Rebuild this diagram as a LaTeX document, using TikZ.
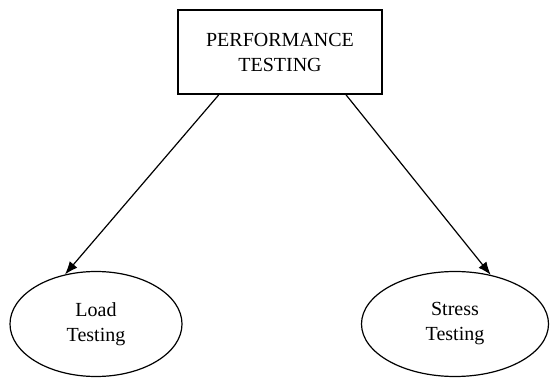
\documentclass[tikz,border=0pt]{standalone}
\usepackage{fontspec}
\setmainfont{Liberation Serif}
\usetikzlibrary{arrows.meta,shapes.geometric}

\begin{document}
\begin{tikzpicture}[x=0.5pt,y=-0.5pt,->,>={Latex[length=6.5pt,width=5pt]},line width=0.6pt,
  every node/.style={font=\fontsize{10}{12.5}\selectfont,align=center},
  topbox/.style={draw,line width=0.9pt,minimum width=102pt,minimum height=42pt,inner sep=0pt},
  kindoval/.style={draw,ellipse,line width=0.6pt,minimum height=52.5pt,inner sep=0pt}]
  \useasboundingbox (0,0) rectangle (550,378);
  \node[topbox] (perf) at (280,52) {PERFORMANCE\\TESTING};
  \node[kindoval,minimum width=86pt] (load) at (96,324) {Load\\Testing};
  \node[kindoval,minimum width=93.5pt] (stress) at (455,324) {Stress\\Testing};
  \path (perf.215) edge (load.122);
  \path (perf.327) edge (stress.54);
\end{tikzpicture}
\end{document}
